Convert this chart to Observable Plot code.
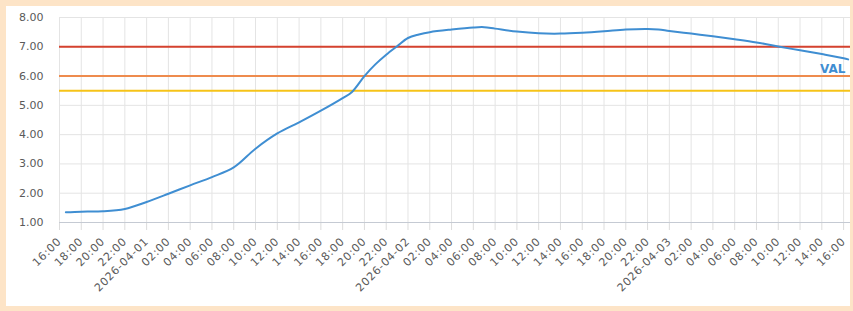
<!DOCTYPE html>
<html><head><meta charset="utf-8">
<script src="https://cdn.jsdelivr.net/npm/d3@7"></script>
<script src="https://cdn.jsdelivr.net/npm/@observablehq/plot@0.6"></script>
<style>
html,body{margin:0;padding:0;background:#fde4c7;width:853px;height:311px;overflow:hidden;}
#panel{position:absolute;left:6px;top:6px;width:844px;height:300px;background:#fff;}
g[aria-label="x-axis tick label"] text{letter-spacing:0.7px;}
</style></head><body><div id="panel"></div>
<script>
// Series: VAL
const times = [
  "2026-03-31T16:35Z","2026-03-31T18:00Z","2026-03-31T20:00Z","2026-03-31T22:00Z",
  "2026-04-01T00:00Z","2026-04-01T02:00Z","2026-04-01T04:00Z","2026-04-01T06:00Z",
  "2026-04-01T08:00Z","2026-04-01T10:00Z","2026-04-01T12:00Z","2026-04-01T14:00Z",
  "2026-04-01T16:00Z","2026-04-01T18:00Z","2026-04-01T18:50Z","2026-04-01T20:00Z",
  "2026-04-01T21:00Z","2026-04-01T22:00Z","2026-04-01T23:00Z",
  "2026-04-02T00:00Z","2026-04-02T01:00Z","2026-04-02T02:00Z","2026-04-02T04:00Z",
  "2026-04-02T06:00Z","2026-04-02T07:00Z","2026-04-02T08:00Z","2026-04-02T10:00Z",
  "2026-04-02T12:00Z","2026-04-02T14:00Z","2026-04-02T16:00Z","2026-04-02T18:00Z",
  "2026-04-02T20:00Z","2026-04-02T22:00Z","2026-04-02T23:00Z",
  "2026-04-03T00:00Z","2026-04-03T02:00Z","2026-04-03T04:00Z","2026-04-03T06:00Z",
  "2026-04-03T08:00Z","2026-04-03T10:00Z","2026-04-03T12:00Z","2026-04-03T14:00Z",
  "2026-04-03T16:00Z","2026-04-03T16:25Z"
];
const values = [
  1.35, 1.37, 1.38, 1.46,
  1.70, 1.98, 2.27, 2.55,
  2.88, 3.52, 4.04, 4.42,
  4.82, 5.25, 5.45, 6.00,
  6.40, 6.73, 7.02,
  7.30, 7.42, 7.50, 7.59,
  7.66, 7.67, 7.62, 7.52,
  7.46, 7.45, 7.48, 7.53,
  7.59, 7.61, 7.59,
  7.54, 7.45, 7.36, 7.26,
  7.15, 7.01, 6.88, 6.75,
  6.61, 6.57
];
const seriesName = "VAL";

// Threshold lines
const thresholdValues = [7.0, 6.0, 5.5];
const thresholdColors = ["#d5422f", "#ee8b4d", "#f6c318"];

// Axes
const yTicks = [1, 2, 3, 4, 5, 6, 7, 8];
const xDomain = ["2026-03-31T16:00Z", "2026-04-03T16:38Z"];
const xTickRange = ["2026-03-31T16:00Z", "2026-04-03T16:00Z"];
const xTickStepHours = 2;

const parse = s => new Date(s);
const data = times.map((t, i) => ({t: parse(t), v: values[i]}));
const thresholds = thresholdValues.map((v, i) => ({v, c: thresholdColors[i]}));
const x0 = parse(xDomain[0]), x1 = parse(xDomain[1]);
const xTicks = d3.utcHour.every(xTickStepHours).range(parse(xTickRange[0]), new Date(+parse(xTickRange[1]) + 1));
const fmtDate = d3.utcFormat("%Y-%m-%d"), fmtTime = d3.utcFormat("%H:%M");
const xFmt = d => d.getUTCHours() === 0 ? fmtDate(d) : fmtTime(d);

const chart = Plot.plot({
  width: 844, height: 300,
  marginLeft: 53, marginRight: 0, marginTop: 11, marginBottom: 84,
  style: {fontFamily: "DejaVu Sans", fontSize: "11px", background: "transparent", overflow: "visible"},
  x: {type: "utc", domain: [x0, x1]},
  y: {domain: [1, 8]},
  marks: [
    Plot.gridX(xTicks, {stroke: "#e4e4e4", strokeOpacity: 1, y1: 1, y2: 8}),
    Plot.gridY(yTicks, {stroke: "#e4e4e4", strokeOpacity: 1}),
    Plot.axisX(xTicks, {tickRotate: -45, tickFormat: xFmt, tickSize: 8, tickPadding: 9,
      stroke: "#dcdcdc", fill: "#5a5a5a", label: null, fontSize: 11}),
    Plot.axisY(yTicks, {tickSize: 0, tickPadding: 16, tickFormat: d => d.toFixed(2),
      fill: "#5a5a5a", label: null}),
    Plot.ruleY([1], {stroke: "#c5cad3", strokeWidth: 1}),
    Plot.ruleY(thresholds, {y: "v", stroke: "c", strokeWidth: 2}),
    Plot.line(data, {x: "t", y: "v", curve: "catmull-rom", stroke: "#3f8ed2", strokeWidth: 2}),
    Plot.text([{t: x1, v: 6.0}], {x: "t", y: "v", text: () => seriesName, textAnchor: "end",
      dx: -5, dy: -7, fill: "#3f8ed2", fontWeight: "bold", fontSize: 12})
  ]
});
document.getElementById("panel").appendChild(chart);
</script>
</body></html>
